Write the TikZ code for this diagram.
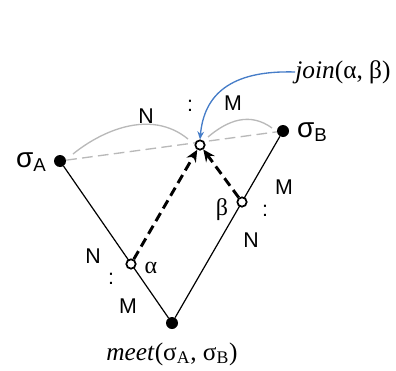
\documentclass[tikz,border=0pt]{standalone}
\usepackage{fontspec}
\setmainfont{Liberation Serif}
\setsansfont{Liberation Sans}
\usetikzlibrary{arrows.meta}

\begin{document}
\begin{tikzpicture}[x=0.75pt,y=-0.75pt,
  dot/.style={circle,fill=black,inner sep=0pt,minimum size=9pt},
  hole/.style={circle,draw=black,line width=1.3pt,fill=white,inner sep=0pt,minimum size=7pt},
  lbl/.style={font=\sffamily\fontsize{16}{18}\selectfont,inner sep=0pt},
  sig/.style={font=\sffamily\fontsize{21}{22}\selectfont,inner sep=0pt},
  grk/.style={font=\fontsize{18}{20}\selectfont,inner sep=0pt},
  flow/.style={line width=2.2pt,dash pattern=on 7pt off 4pt,-{Stealth[length=9pt,width=8pt,inset=3pt]}},
  arcline/.style={gray!55,line width=1pt}]

\useasboundingbox (0,0) rectangle (396,371);

% gray dashed link between the two states
\node[dot] (sa) at (60,161) {};
\node[dot] (sb) at (283,131) {};
\node[dot] (meet) at (172,323) {};
\draw[gray!55,line width=1pt,dash pattern=on 8pt off 4pt] (sa) -- (sb);

\draw[line width=0.9pt] (sa) -- (meet) -- (sb);

\node[hole] (join) at (200,145) {};
\node[hole] (al) at (131,264) {};
\node[hole] (be) at (242,202) {};

\draw[flow] (al) -- (join);
\draw[flow] (be) -- (join);

% arcs over the top
\draw[arcline] (73,154) .. controls (100,132) and (150,108) .. (188,139);
\draw[arcline] (208,137) .. controls (228,120) and (250,112) .. (272,128);

% labels
\node[sig] (lsa) at (31,162) {σ\raisebox{-3pt}{\fontsize{14}{14}\selectfont A}};
\node[sig] (lsb) at (312,132) {σ\raisebox{-3pt}{\fontsize{14}{14}\selectfont B}};

\node[lbl] (n1) at (146,116) {N};
\node[lbl] (c1) at (190,106) {:};
\node[lbl] (m1) at (233,103) {M};

\node[lbl] (n2) at (93,256) {N};
\node[lbl] (c2) at (111,279) {:};
\node[lbl] (m2) at (128,306) {M};

\node[lbl] (m3) at (284,187) {M};
\node[lbl] (c3) at (265,211) {:};
\node[lbl] (n3) at (251,240) {N};

\node[grk] (la) at (151,268) {α};
\node[grk] (lb) at (222,210) {β};

\node[font=\fontsize{19}{21}\selectfont,inner sep=0pt] (ljoin) at (343,72) {\textit{join}(α, β)};
\node[font=\fontsize{19}{21}\selectfont,inner sep=0pt] (lmeet) at (172,354) {\textit{meet}(σ\textsubscript{A}, σ\textsubscript{B})};

\draw[color={rgb,255:red,70;green,125;blue,200},line width=1pt,-{Stealth[length=6pt,width=5pt]}]
  (ljoin.west) .. controls (230,70) and (204,95) .. (join.north);

\end{tikzpicture}
\end{document}
